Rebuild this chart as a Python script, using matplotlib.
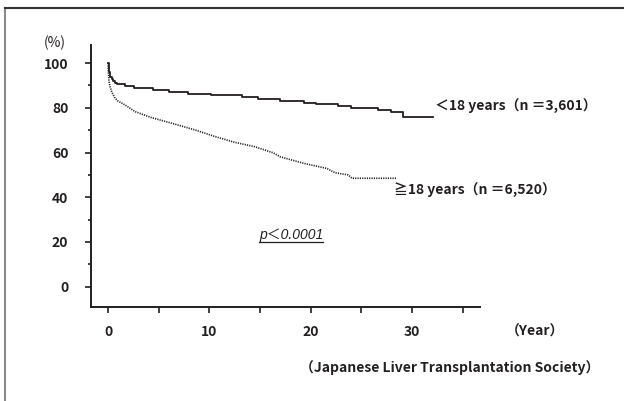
import matplotlib
matplotlib.use("Agg")
import matplotlib.pyplot as plt
from matplotlib.lines import Line2D
from matplotlib.ticker import MultipleLocator

# survival (years, %)
young_t = [0, 0.05, 0.1, 0.2, 0.35, 0.5, 0.7, 0.86, 1.7, 2.6, 4.4, 6.0, 7.9, 10.2,
           13.2, 14.8, 17.0, 19.3, 20.5, 22.7, 24.0, 26.7, 27.9, 29.1, 32.1]
young_s = [100, 97.5, 96, 94, 92.8, 92, 91.2, 90.5, 89.8, 89.0, 88.1, 87.2, 86.3, 85.6,
           84.8, 84.1, 83.2, 82.3, 81.6, 80.8, 79.9, 79.0, 78.1, 76.0, 76.0]

adult_t = [0, 0.05, 0.1, 0.2, 0.36, 0.69, 1.0, 1.68, 2.67, 4.3, 6.3, 8.6, 10.6, 12.5,
           14.5, 16.3, 17.0, 19.3, 21.6, 22.4, 23.7, 24.1, 28.5]
adult_s = [100, 95, 91.7, 89.5, 87.2, 84.3, 83.0, 81.3, 78.3, 75.6, 73.1, 70.1, 67.1, 64.6,
           62.6, 59.9, 58.1, 55.2, 52.9, 51.0, 50.0, 48.5, 48.5]

x_ticks = [0, 10, 20, 30]
y_ticks = [0, 20, 40, 60, 80, 100]

young_label = "＜18 years（n ＝3,601）"
adult_label = "≧18 years（n ＝6,520）"

plt.rcParams['font.family'] = ['Noto Sans CJK JP', 'DejaVu Sans']
plt.rcParams['font.weight'] = 'bold'
ink = '#231f20'

fig = plt.figure(figsize=(6.24, 4.01), dpi=100)
ax = fig.add_axes([91 / 624, 94.3 / 401, 389 / 624, 261.7 / 401])

ax.plot(young_t, young_s, drawstyle='steps-post', color=ink, lw=1.3)
ax.plot(adult_t, adult_s, color=ink, lw=1.2, linestyle=(0, (0.7, 0.7)))

ax.set_xlim(-1.68, 36.72)
ax.set_ylim(-8.94, 108.1)
ax.set_xticks(x_ticks)
ax.xaxis.set_minor_locator(MultipleLocator(5))
ax.set_yticks(y_ticks)
ax.yaxis.set_minor_locator(MultipleLocator(10))
ax.tick_params(axis='x', which='both', direction='out', length=4.3, width=1.2,
               color=ink, labelsize=10, labelcolor=ink, pad=9)
ax.tick_params(axis='y', which='major', direction='out', length=4.3, width=1.2,
               color=ink, labelsize=10, labelcolor=ink, pad=12)
ax.tick_params(axis='y', which='minor', direction='out', length=2.2, width=1.2, color=ink)

for side in ['top', 'right']:
    ax.spines[side].set_visible(False)
for side in ['left', 'bottom']:
    ax.spines[side].set_linewidth(1.4)
    ax.spines[side].set_color(ink)

fig.text(55 / 624, 1 - 42.5 / 401, "(%)", fontsize=10, color=ink,
         ha='center', va='center', weight='normal')
fig.text(435 / 624, 1 - 106.7 / 401, young_label, fontsize=10, color=ink, va='center')
fig.text(394 / 624, 1 - 190.7 / 401, adult_label, fontsize=10, color=ink, va='center')
fig.text(506 / 624, 1 - 331.7 / 401, "（Year）", fontsize=10, color=ink, va='center')
fig.text(300 / 624, 1 - 368 / 401, "（Japanese Liver Transplantation Society）",
         fontsize=10, color=ink, va='center')

ptxt = fig.text(259 / 624, 1 - 235 / 401, "p＜0.0001", fontsize=10, color=ink,
                va='center', style='italic', weight='normal',
                family=['Liberation Sans', 'Noto Sans CJK JP'])
fig.canvas.draw()
bb = ptxt.get_window_extent()
fig.add_artist(Line2D([bb.x0 / 624, bb.x1 / 624], [1 - 241.7 / 401] * 2,
                      transform=fig.transFigure, color=ink, lw=0.9))

# frame around the figure (left and top only)
fig.add_artist(Line2D([4.5 / 624, 4.5 / 624], [0, 1 - 7.5 / 401],
                      transform=fig.transFigure, color='#8a8a8a', lw=1.5))
fig.add_artist(Line2D([4.5 / 624, 1], [1 - 7.5 / 401] * 2,
                      transform=fig.transFigure, color='#333333', lw=1.5))

fig.savefig("out.png", dpi=100)
